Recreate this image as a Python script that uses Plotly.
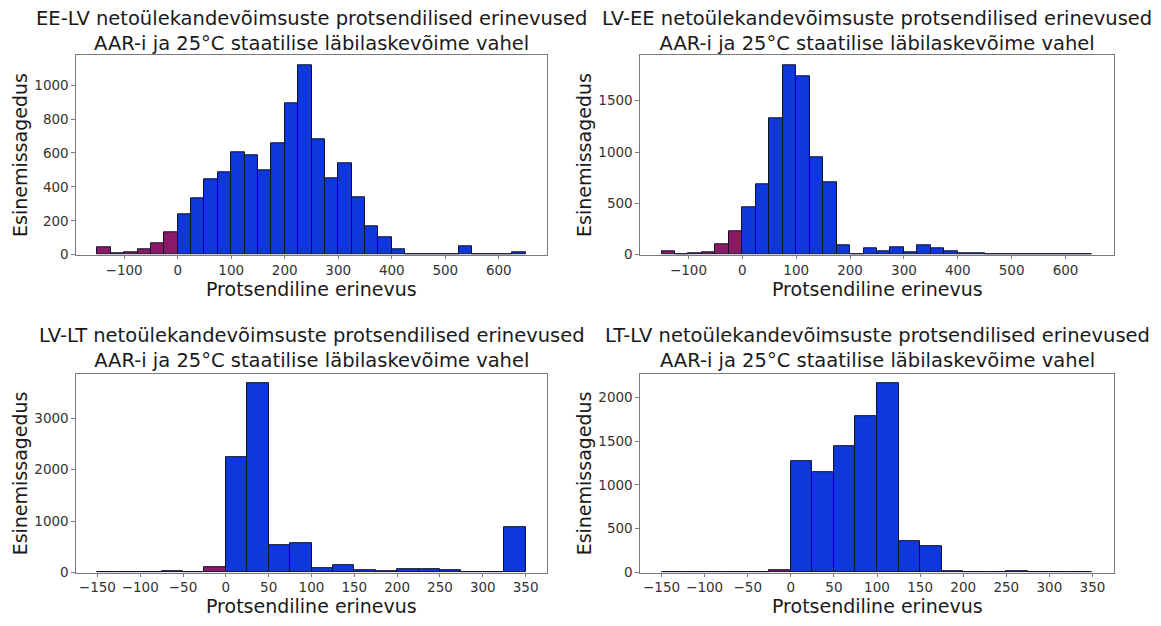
import plotly.graph_objects as go

# ---- data (bin width 25) ----
bins_wide = [-150, -125, -100, -75, -50, -25, 0, 25, 50, 75, 100, 125, 150, 175, 200, 225,
             250, 275, 300, 325, 350, 375, 400, 425, 450, 475, 500, 525, 550, 575, 600, 625]
bins_narrow = [-150, -125, -100, -75, -50, -25, 0, 25, 50, 75, 100, 125, 150, 175, 200, 225,
               250, 275, 300, 325]

ee_lv = [45, 8, 15, 30, 65, 135, 240, 330, 445, 485, 605, 585, 495, 655, 895, 1120,
         680, 450, 540, 340, 165, 100, 30, 3, 0, 0, 5, 48, 0, 0, 0, 15]
lv_ee = [38, 5, 15, 25, 100, 225, 460, 690, 1325, 1850, 1735, 950, 710, 95, 8, 58,
         32, 70, 25, 90, 58, 38, 15, 12, 0, 0, 0, 0, 0, 0, 0, 0]
lv_lt = [0, 0, 0, 25, 12, 115, 2250, 3670, 530, 570, 77, 135, 50, 32, 58, 58,
         45, 12, 0, 890]
lt_lv = [0, 0, 0, 0, 0, 30, 1275, 1150, 1445, 1780, 2155, 355, 305, 15, 8, 5,
         15, 0, 0, 0]

titles = [
    "EE-LV netoülekandevõimsuste protsendilised erinevused<br>AAR-i ja 25°C staatilise läbilaskevõime vahel",
    "LV-EE netoülekandevõimsuste protsendilised erinevused<br>AAR-i ja 25°C staatilise läbilaskevõime vahel",
    "LV-LT netoülekandevõimsuste protsendilised erinevused<br>AAR-i ja 25°C staatilise läbilaskevõime vahel",
    "LT-LV netoülekandevõimsuste protsendilised erinevused<br>AAR-i ja 25°C staatilise läbilaskevõime vahel",
]
x_label = "Protsendiline erinevus"
y_label = "Esinemissagedus"

x_ticks_wide = [-100, 0, 100, 200, 300, 400, 500, 600]
x_ticks_narrow = [-150, -100, -50, 0, 50, 100, 150, 200, 250, 300, 350]
y_ticks = [[0, 200, 400, 600, 800, 1000],
           [0, 500, 1000, 1500],
           [0, 1000, 2000, 3000],
           [0, 500, 1000, 1500, 2000]]

# ---- layout ----
W, H = 1161, 626
BIN_W = 25
NEG = "#8a1a68"
POS = "#0f38dc"
FONT = "DejaVu Sans"
TXT = "#1a1a1a"

panels = [
    dict(bins=bins_wide, vals=ee_lv, xt=x_ticks_wide, px=(76, 547), py=(56, 258), ty=31.5, ly=293, yx=20),
    dict(bins=bins_wide, vals=lv_ee, xt=x_ticks_wide, px=(640, 1114), py=(56, 258), ty=31.5, ly=293, yx=584),
    dict(bins=bins_narrow, vals=lv_lt, xt=x_ticks_narrow, px=(76, 547), py=(379, 580), ty=353, ly=614, yx=20),
    dict(bins=bins_narrow, vals=lt_lv, xt=x_ticks_narrow, px=(640, 1114), py=(379, 580), ty=353, ly=614, yx=584),
]

fig = go.Figure()
annotations = []
for i, p in enumerate(panels):
    n = "" if i == 0 else str(i + 1)
    centers = [b + BIN_W / 2 for b in p["bins"]]
    colors = [NEG if b < 0 else POS for b in p["bins"]]
    fig.add_trace(go.Bar(
        x=centers, y=p["vals"], width=BIN_W,
        marker=dict(color=colors, line=dict(color="#10122a", width=1)),
        xaxis="x" + n, yaxis="y" + n, showlegend=False,
    ))
    lo = p["bins"][0]
    hi = p["bins"][-1] + BIN_W
    span = hi - lo
    ymax = max(p["vals"]) * 1.05
    axis_common = dict(showgrid=False, zeroline=False, showline=True, linecolor="#7a7a7a",
                       linewidth=1.2, mirror=True, ticks="outside", ticklen=3.5, tickcolor="#7a7a7a",
                       tickangle=0,
                       tickfont=dict(family=FONT, size=13.5, color="#333333"))
    fig.layout["xaxis" + n] = dict(
        domain=[p["px"][0] / W, p["px"][1] / W],
        range=[lo - 0.05 * span, hi + 0.05 * span],
        tickvals=p["xt"], anchor="y" + n, ticklabelstandoff=-1, **axis_common)
    fig.layout["yaxis" + n] = dict(
        domain=[1 - p["py"][1] / H, 1 - p["py"][0] / H],
        range=[0, ymax], tickvals=y_ticks[i], anchor="x" + n, **axis_common)
    cx = (p["px"][0] + p["px"][1]) / 2 / W
    annotations.append(dict(text=titles[i], x=cx, y=1 - p["ty"] / H, xref="paper", yref="paper",
                            xanchor="center", yanchor="middle", showarrow=False,
                            font=dict(family=FONT, size=19.5, color=TXT)))
    annotations.append(dict(text=x_label, x=cx, y=1 - p["ly"] / H, xref="paper", yref="paper",
                            xanchor="center", yanchor="middle", showarrow=False,
                            font=dict(family=FONT, size=19, color=TXT)))
    annotations.append(dict(text=y_label, x=p["yx"] / W, y=1 - (p["py"][0] + p["py"][1]) / 2 / H,
                            xref="paper", yref="paper", textangle=-90,
                            xanchor="center", yanchor="middle", showarrow=False,
                            font=dict(family=FONT, size=19, color=TXT)))

fig.update_layout(width=W, height=H, margin=dict(l=0, r=0, t=0, b=0),
                  paper_bgcolor="white", plot_bgcolor="white", bargap=0,
                  annotations=annotations)
fig.write_html("out.html")
